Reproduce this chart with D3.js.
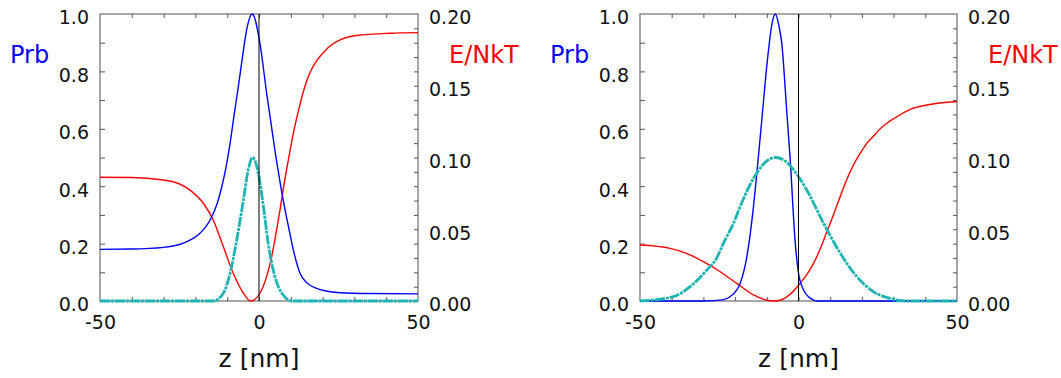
<!DOCTYPE html>
<html>
<head>
<meta charset="utf-8">
<script src="https://cdn.jsdelivr.net/npm/d3@7"></script>
<style>
  body { margin: 0; background: #fff; }
  svg { display: block; font-family: "DejaVu Sans", sans-serif; }
  .tick text { font-family: "DejaVu Sans", sans-serif; font-size: 19px; fill: #111; }
  .tick line { stroke: #555; }
</style>
</head>
<body>
<svg id="chart" width="1061" height="378"></svg>
<script>
// x range shared by both panels
var zDomain = [-50, 50];
var xTickLabels = [-50, 0, 50];
var prbTicks = [0, 0.2, 0.4, 0.6, 0.8, 1.0];
var eTicks = [0, 0.05, 0.10, 0.15, 0.20];

// left panel
var zBlueL = [-50, -40, -30, -25, -21.7, -19, -17, -15, -13, -11.7, -10.3, -9.1, -7.8, -6.5, -5.2, -3.9, -2.1, 0.3, 2.4, 5, 7.6, 9.7, 11.3, 12.9, 15, 18.1, 21, 25.5, 35, 50];
var prbBlueL = [0.18, 0.181, 0.187, 0.197, 0.212, 0.232, 0.255, 0.29, 0.345, 0.398, 0.47, 0.549, 0.65, 0.747, 0.85, 0.944, 1.0, 0.898, 0.724, 0.526, 0.352, 0.236, 0.155, 0.097, 0.064, 0.044, 0.035, 0.029, 0.026, 0.025];
var zRedL = [-50, -40, -32.2, -27, -21.7, -17.5, -14.4, -11.2, -8.1, -4.9, -2.6, 0.3, 3.5, 6.6, 8, 9.7, 11, 12.9, 14.5, 16, 18, 20.2, 22.5, 25.5, 30.7, 41.2, 50];
var eRedL = [0.0862, 0.0861, 0.0848, 0.0831, 0.0773, 0.0681, 0.0564, 0.0378, 0.0193, 0.0054, 0, 0.0054, 0.026, 0.0634, 0.083, 0.104, 0.119, 0.137, 0.15, 0.159, 0.167, 0.173, 0.178, 0.182, 0.185, 0.1866, 0.187];
var zCyanL = [-50, -14.4, -11.2, -9.1, -7, -4.9, -3.4, -2, -0.2, 1.4, 2.9, 5, 7.6, 10.3, 50];
var prbCyanL = [0, 0, 0.027, 0.097, 0.213, 0.352, 0.456, 0.5, 0.445, 0.329, 0.201, 0.085, 0.021, 0, 0];

// right panel
var zBlueR = [-50, -30, -24, -21.6, -18.4, -16.3, -14.2, -13.1, -11.5, -9.8, -8.3, -7.3, -6.2, -5.3, -3.7, -2.6, -1.1, 0, 1.6, 3.7, 6, 50];
var prbBlueR = [0, 0, 0.004, 0.015, 0.062, 0.154, 0.329, 0.45, 0.64, 0.84, 0.97, 1.0, 0.96, 0.9, 0.66, 0.49, 0.213, 0.097, 0.038, 0.01, 0, 0];
var zRedR = [-50, -40.5, -35.3, -30, -24.7, -19.5, -14.2, -10, -8, -5.8, -2.6, 0.5, 2.5, 4.7, 6.8, 8.9, 11, 13.2, 15.3, 17.4, 19.5, 21.6, 23.7, 25.8, 28, 30, 35.3, 40.5, 50];
var eRedR = [0.039, 0.0367, 0.0332, 0.0274, 0.0204, 0.0123, 0.0042, 0.0005, 0, 0.0005, 0.0048, 0.0123, 0.018, 0.026, 0.036, 0.048, 0.06, 0.073, 0.085, 0.095, 0.103, 0.11, 0.115, 0.12, 0.124, 0.127, 0.1336, 0.1366, 0.139];
var zCyanR = [-50, -39.5, -34.2, -28.9, -25.8, -23.7, -20.5, -18.4, -15.3, -13.2, -10, -7.3, -4.5, -2.4, 2.6, 7.9, 13.2, 18.4, 23.7, 28.9, 34, 50];
var prbCyanR = [0, 0.015, 0.05, 0.108, 0.15, 0.201, 0.271, 0.329, 0.405, 0.445, 0.488, 0.5, 0.49, 0.468, 0.387, 0.271, 0.166, 0.085, 0.032, 0.009, 0, 0];

var svg = d3.select("#chart");

function zip(xs, ys) {
	return xs.map(function(x, i) { return [x, ys[i]]; });
}

function drawPanel(left, right, p) {
	var top = 14, bottom = 301;
	var x = d3.scaleLinear().domain(zDomain).range([left, right]);
	var yP = d3.scaleLinear().domain([0, 1]).range([bottom, top]);
	var yE = d3.scaleLinear().domain([0, 0.2]).range([bottom, top]);
	var g = svg.append("g");

	// frame
	g.append("rect")
		.attr("x", left).attr("y", top)
		.attr("width", right - left).attr("height", bottom - top)
		.attr("fill", "none").attr("stroke", "#8a8a8a").attr("stroke-width", 1.5);

	// minor ticks
	g.append("g").attr("transform", "translate(0," + bottom + ")")
		.call(d3.axisBottom(x).tickValues(d3.range(-40, 50, 10)).tickSize(-4).tickFormat(""));
	g.append("g").attr("transform", "translate(0," + top + ")")
		.call(d3.axisTop(x).tickValues(d3.range(-40, 50, 10)).tickSize(-4).tickFormat(""));
	g.append("g").attr("transform", "translate(" + left + ",0)")
		.call(d3.axisLeft(yP).tickValues(d3.range(0.1, 1, 0.1)).tickSize(-5).tickFormat(""));
	g.append("g").attr("transform", "translate(" + right + ",0)")
		.call(d3.axisRight(yE).tickValues(d3.range(0.01, 0.2, 0.01)).tickSize(-4).tickFormat(""));

	// labelled axes
	g.append("g").attr("transform", "translate(0," + bottom + ")")
		.call(d3.axisBottom(x).tickValues(xTickLabels).tickSize(0).tickPadding(15).tickFormat(function(d) { return String(d); }));
	var ayl = g.append("g").attr("transform", "translate(" + left + ",0)")
		.call(d3.axisLeft(yP).tickValues(prbTicks).tickSize(0).tickPadding(11).tickFormat(d3.format(".1f")));
	var ayr = g.append("g").attr("transform", "translate(" + right + ",0)")
		.call(d3.axisRight(yE).tickValues(eTicks).tickSize(0).tickPadding(11).tickFormat(d3.format(".2f")));
	ayl.selectAll(".tick text").attr("dy", "0.52em");
	ayr.selectAll(".tick text").attr("dy", "0.52em");
	g.selectAll(".domain").remove();

	var lineP = d3.line().x(function(d) { return x(d[0]); }).y(function(d) { return yP(d[1]); }).curve(d3.curveMonotoneX);
	var lineE = d3.line().x(function(d) { return x(d[0]); }).y(function(d) { return yE(d[1]); }).curve(d3.curveMonotoneX);

	g.append("path").datum(zip(p.zRed, p.eRed))
		.attr("d", lineE).attr("fill", "none").attr("stroke", "#ff0000").attr("stroke-width", 1.4);
	g.append("path").datum(zip(p.zBlue, p.prbBlue))
		.attr("d", lineP).attr("fill", "none").attr("stroke", "#0000ff").attr("stroke-width", 1.4);
	g.append("path").datum(zip(p.zCyan, p.prbCyan))
		.attr("d", lineP).attr("fill", "none").attr("stroke", "#1eb4b4").attr("stroke-width", 2.8)
		.attr("stroke-dasharray", "10,1,3,1");

	// z = 0 marker
	g.append("line")
		.attr("x1", x(0)).attr("x2", x(0)).attr("y1", top).attr("y2", bottom)
		.attr("stroke", "#000").attr("stroke-width", 1);

	// titles
	g.append("text").attr("x", left - 90).attr("y", 63)
		.attr("font-size", 24).attr("fill", "#0000ff").text("Prb");
	g.append("text").attr("x", right + 31).attr("y", 63)
		.attr("font-size", 24).attr("fill", "#ff0000").text("E/NkT");
	g.append("text").attr("x", (left + right) / 2).attr("y", 367)
		.attr("text-anchor", "middle").attr("font-size", 25).attr("fill", "#111").text("z [nm]");
}

drawPanel(100, 418, { zBlue: zBlueL, prbBlue: prbBlueL, zRed: zRedL, eRed: eRedL, zCyan: zCyanL, prbCyan: prbCyanL });
drawPanel(640, 957, { zBlue: zBlueR, prbBlue: prbBlueR, zRed: zRedR, eRed: eRedR, zCyan: zCyanR, prbCyan: prbCyanR });
</script>
</body>
</html>
